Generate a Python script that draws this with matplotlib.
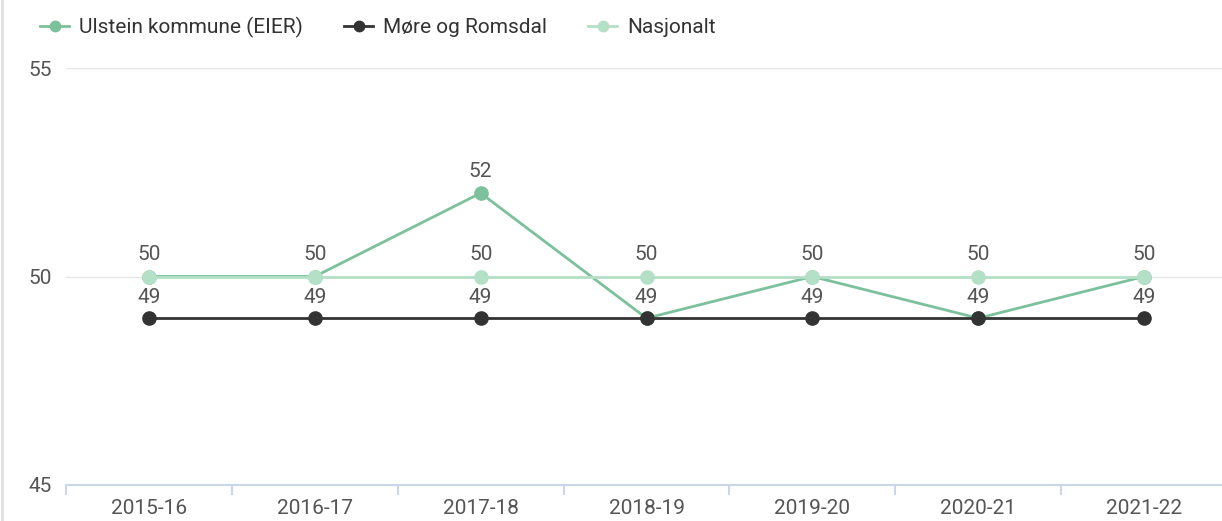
import matplotlib
matplotlib.use("Agg")
import matplotlib.pyplot as plt
from matplotlib.lines import Line2D

categories = ["2015-16", "2016-17", "2017-18", "2018-19", "2019-20", "2020-21", "2021-22"]
ulstein = [50, 50, 52, 49, 50, 49, 50]
more = [49, 49, 49, 49, 49, 49, 49]
nasjonalt = [50, 50, 50, 50, 50, 50, 50]
series_names = ["Ulstein kommune (EIER)", "Møre og Romsdal", "Nasjonalt"]
yticks = [45, 50, 55]

colors = ["#7cc19b", "#333333", "#b3e0c6"]
text_color = "#555555"
fs = 15

plt.rcParams['font.family'] = ['Roboto', 'DejaVu Sans']

W, H = 1222, 521
fig = plt.figure(figsize=(W / 100, H / 100), dpi=100)
ax = fig.add_axes([66 / W, (H - 485) / H, 1161 / W, (485 - 68) / H])

x = list(range(len(categories)))
lw = 2.0
ms = 9.5
ax.plot(x, ulstein, color=colors[0], lw=lw, marker='o', ms=ms, zorder=3)
ax.plot(x, more, color=colors[1], lw=lw, marker='o', ms=ms, zorder=4)
ax.plot(x, nasjonalt, color=colors[2], lw=lw, marker='o', ms=ms, zorder=5)

# data labels
for i in x:
    ax.annotate(str(nasjonalt[i]), (i, nasjonalt[i]), xytext=(0, 22), textcoords='offset pixels',
                ha='center', va='center', fontsize=fs, color=text_color, zorder=6)
    ax.annotate(str(more[i]), (i, more[i]), xytext=(0, 21), textcoords='offset pixels',
                ha='center', va='center', fontsize=fs, color=text_color, zorder=6)
    if ulstein[i] != nasjonalt[i] and ulstein[i] != more[i]:
        ax.annotate(str(ulstein[i]), (i, ulstein[i]), xytext=(0, 22), textcoords='offset pixels',
                    ha='center', va='center', fontsize=fs, color=text_color, zorder=6)

ax.set_xlim(-0.5, len(categories) - 0.5)
ax.set_ylim(45, 55)
ax.set_yticks(yticks)
ax.set_yticklabels([str(v) for v in yticks])
ax.set_xticks(x)
ax.set_xticklabels(categories)
ax.set_xticks([i - 0.5 for i in range(len(categories) + 1)], minor=True)
ax.tick_params(axis='x', which='major', length=0, pad=10, labelsize=fs, labelcolor=text_color)
ax.tick_params(axis='x', which='minor', length=7, width=1.5, color='#ccd6eb', direction='out')
ax.tick_params(axis='y', length=0, pad=10, labelsize=fs, labelcolor=text_color)

ax.grid(axis='y', color='#e6e6e6', lw=1)
ax.set_axisbelow(True)
for s in ['top', 'right', 'left']:
    ax.spines[s].set_visible(False)
ax.spines['bottom'].set_color('#ccd6eb')
ax.spines['bottom'].set_linewidth(1.5)
ax.spines['bottom'].set_zorder(1)

# left panel border
fig.add_artist(Line2D([1.5 / W, 1.5 / W], [0, 1], color='#e0e0e0', lw=2))

handles = [Line2D([0], [0], color=c, lw=lw, marker='o', ms=7.5) for c in colors]
fig.legend(handles, series_names, loc='center left', bbox_to_anchor=(40 / W, 1 - 27 / H),
           ncol=3, frameon=False, fontsize=fs, labelcolor='#333333',
           handlelength=1.4, handletextpad=0.45, columnspacing=2.0,
           borderaxespad=0, borderpad=0)

fig.savefig("out.png", dpi=100)
